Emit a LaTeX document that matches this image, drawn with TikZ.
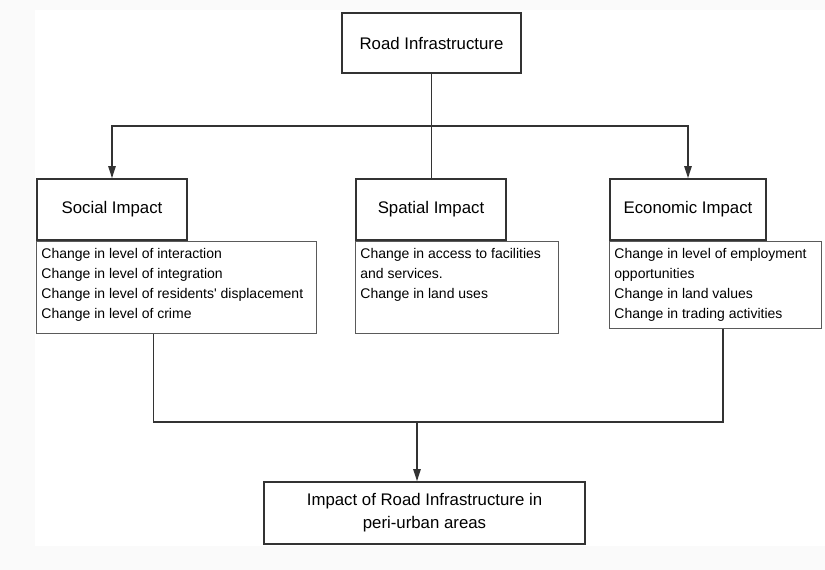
\documentclass[tikz,border=0pt]{standalone}
\usepackage{fontspec}
\setmainfont{Liberation Sans}
\usepackage{tikz}
\usetikzlibrary{positioning}
\usetikzlibrary{arrows.meta}

\definecolor{pagegray}{HTML}{FAFAFA}
\definecolor{linegray}{HTML}{333333}
\definecolor{listgray}{HTML}{5A5A5A}

\tikzset{
  head/.style={draw=linegray, line width=1.2pt, inner sep=0pt, align=center,
               font=\fontsize{12.6}{17.25}\selectfont},
  list/.style={draw=listgray, line width=0.8pt, anchor=north west,
               inner xsep=3.5pt, inner ysep=5pt, font=\fontsize{10.5}{15}\selectfont},
  link/.style={draw=linegray, line width=1.1pt},
  arrow/.style={link, -{Triangle[length=9pt, width=5.5pt]}}
}

\begin{document}
\begin{tikzpicture}[x=0.75pt, y=-0.75pt]
  %\draw [help lines, dotted] (0,0) grid[step=50] (825,570);
  \fill[pagegray] (0,0) rectangle (825,570);
  \fill[white] (35,10) rectangle (825,546);

  \node[head, minimum width=134.25pt, minimum height=45pt] (Road) at (431.5,43) {Road Infrastructure};

  \node[head, minimum width=112.5pt, minimum height=45.75pt] (Social)   at (112,209.5)   {Social Impact};
  \node[head, minimum width=112.5pt, minimum height=45.75pt] (Spatial)  at (431,209.5)   {Spatial Impact};
  \node[head, minimum width=117pt,   minimum height=45.75pt] (Economic) at (688,209.5)   {Economic Impact};

  \node[list] (SocialList) at (Social.south west) {\parbox[t][59pt][t]{203pt}{%
      Change in level of interaction\\
      Change in level of integration\\
      Change in level of residents\textquotesingle\ displacement\\
      Change in level of crime}};
  \node[list] (SpatialList) at (Spatial.south west) {\parbox[t][59pt][t]{145.25pt}{%
      Change in access to facilities\\
      and services.\\
      Change in land uses}};
  \node[list] (EconomicList) at (Economic.south west) {\parbox[t][55.25pt][t]{152pt}{%
      Change in level of employment\\
      opportunities\\
      Change in land values\\
      Change in trading activities}};

  \node[head, minimum width=240.75pt, minimum height=46.5pt] (Impact) at (424.5,513)
       {Impact of Road Infrastructure in\\peri-urban areas};

  % top split
  \coordinate (split) at (431.5,126);
  \draw[link]  (Road.south) -- (Road.south |- Spatial.north);
  \draw[arrow] (split) -| (Social);
  \draw[arrow] (split) -| (Economic);

  % bottom merge
  \coordinate (socialfoot)   at ([xshift=88pt]SocialList.south west);
  \coordinate (economicfoot) at ([xshift=85.5pt]EconomicList.south west);
  \coordinate (join) at (417,422);
  \draw[link]  (socialfoot) |- (join) -| (economicfoot);
  \draw[arrow] (join) -- (join |- Impact.north);

\end{tikzpicture}
\end{document}
